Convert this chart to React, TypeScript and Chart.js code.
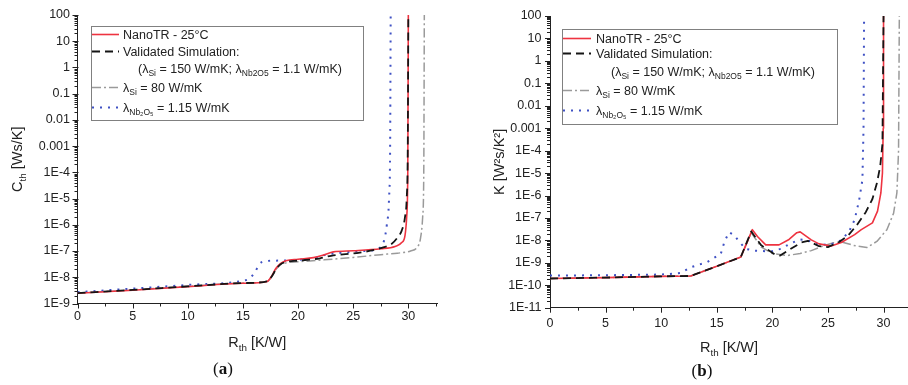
import React, { useEffect, useRef } from 'react';
import { Chart, registerables } from 'chart.js';

Chart.register(...registerables);

// ---------------- data ----------------
const R_TICK_VALUES = [0, 5, 10, 15, 20, 25, 30];
const CTH_TICK_LABELS = ['1E-9', '1E-8', '1E-7', '1E-6', '1E-5', '1E-4', '0.001', '0.01', '0.1', '1', '10', '100'];
const K_TICK_LABELS = ['1E-11', '1E-10', '1E-9', '1E-8', '1E-7', '1E-6', '1E-5', '1E-4', '0.001', '0.01', '0.1', '1', '10', '100'];

// (a) Cth vs Rth
const cthNanoTR_R = [0, 5, 10, 15, 17.2, 17.6, 18.0, 18.4, 18.9, 20, 21.4, 22.3, 23.2, 25, 27.5, 28.8, 29.4, 29.7, 29.85, 29.95, 30.0];
const cthNanoTR = [2.45e-9, 3.2e-9, 4.4e-9, 5.9e-9, 6.9e-9, 1.1e-8, 2.2e-8, 3.3e-8, 4.3e-8, 4.9e-8, 5.6e-8, 7e-8, 9.3e-8, 1.03e-7, 1.22e-7, 1.5e-7, 2.1e-7, 4e-7, 2e-6, 1e-4, 100];
const cthSim_R = [0, 5, 10, 15, 17.2, 17.6, 18.0, 18.4, 19, 20, 22, 23, 25.6, 27.5, 28.5, 29.0, 29.4, 29.7, 29.85, 29.95, 30.0];
const cthSim = [2.5e-9, 3.3e-9, 4.5e-9, 6.0e-9, 7.0e-9, 1.05e-8, 2.0e-8, 3.1e-8, 3.9e-8, 4.3e-8, 5.3e-8, 6.6e-8, 8.7e-8, 1.3e-7, 1.9e-7, 3.2e-7, 6e-7, 2e-6, 1e-5, 1e-3, 100];
const cthSi80_R = [0, 5, 10, 15, 17.2, 17.6, 18.0, 18.4, 19, 20, 22, 25, 27.5, 29, 30.2, 30.8, 31.1, 31.3, 31.4, 31.45];
const cthSi80 = [2.5e-9, 3.3e-9, 4.5e-9, 6.0e-9, 7.0e-9, 1.05e-8, 2.0e-8, 3.0e-8, 3.6e-8, 3.9e-8, 4.5e-8, 5.7e-8, 7.3e-8, 8.3e-8, 1.0e-7, 1.4e-7, 3e-7, 2e-6, 1e-4, 100];
const cthNb_R = [0, 5, 10, 15, 15.6, 16.1, 16.5, 17.0, 18, 20, 21.4, 22.6, 24.4, 26, 27.45, 27.8, 28.05, 28.25, 28.35, 28.4];
const cthNb = [2.7e-9, 3.7e-9, 5.1e-9, 7.4e-9, 9e-9, 1.6e-8, 3.2e-8, 4.1e-8, 4.3e-8, 4.6e-8, 5.3e-8, 7.3e-8, 9e-8, 1.0e-7, 1.35e-7, 2.5e-7, 1e-6, 1e-5, 1e-3, 100];

// (b) K vs Rth
const kNanoTR_R = [0, 5, 10, 12.66, 15, 17.16, 18.2, 18.66, 19.4, 20.6, 21.5, 22.2, 22.5, 23.5, 24.2, 25.3, 26.2, 27.4, 28.0, 29.0, 29.46, 29.76, 29.9, 29.97, 30.0];
const kNanoTR = [2.0e-10, 2.2e-10, 2.5e-10, 2.6e-10, 7e-10, 1.8e-9, 3e-8, 1.5e-8, 6.3e-9, 6.3e-9, 1.1e-8, 2.2e-8, 2.4e-8, 1.05e-8, 7e-9, 5.6e-9, 8e-9, 1.8e-8, 3e-8, 6e-8, 2e-7, 1.3e-6, 1e-5, 1e-3, 100];
const kSim_R = [0, 5, 10, 12.66, 15, 17.16, 18.1, 19.0, 20.2, 20.7, 21.3, 22.6, 23.2, 24.2, 25.0, 26.0, 26.8, 27.6, 28.4, 29.0, 29.4, 29.7, 29.9, 30.0];
const kSim = [2.0e-10, 2.2e-10, 2.5e-10, 2.6e-10, 7e-10, 1.8e-9, 2.5e-8, 6e-9, 2.4e-9, 2.1e-9, 3.3e-9, 8e-9, 9.5e-9, 5.5e-9, 5e-9, 8.5e-9, 1.6e-8, 4.8e-8, 1.8e-7, 7e-7, 3.5e-6, 2e-5, 2e-4, 100];
const kSi80_R = [0, 5, 10, 12.66, 15, 17.16, 18.1, 19.0, 20.0, 21.3, 22.5, 23.5, 24.5, 25.5, 26.3, 27.3, 28.5, 29.4, 30.3, 30.9, 31.2, 31.35, 31.42];
const kSi80 = [2.0e-10, 2.2e-10, 2.5e-10, 2.6e-10, 7e-10, 1.8e-9, 2.2e-8, 5e-9, 2.6e-9, 2.1e-9, 2.6e-9, 3.5e-9, 5.5e-9, 7.8e-9, 8.3e-9, 6e-9, 4.8e-9, 9e-9, 3e-8, 1.6e-7, 1.3e-6, 1e-4, 100];
const kNb_R = [0, 5, 10, 11.76, 12.66, 14.16, 15.36, 15.7, 16.1, 16.56, 17.0, 17.6, 18.36, 19.86, 20.76, 21.66, 22.5, 23.2, 24.2, 25.3, 26.2, 26.9, 27.4, 27.8, 28.1, 28.2, 28.25];
const kNb = [2.7e-10, 2.8e-10, 3.0e-10, 3.5e-10, 6.3e-10, 1.1e-9, 2.5e-9, 9e-9, 2.3e-8, 1.7e-8, 9e-9, 4.2e-9, 3.5e-9, 3.2e-9, 4.2e-9, 7.4e-9, 1.1e-8, 1.0e-8, 6.3e-9, 6.7e-9, 1e-8, 2.5e-8, 8.3e-8, 6e-7, 5e-6, 1e-3, 100];

// ---------------- styles ----------------
const FONT = "'Liberation Sans', Arial, sans-serif";
const TEXT = '#222222';
const AXIS = '#222222';

type Style = { color: string; width: number; dash: number[] };
const STYLE_NANO: Style = { color: '#ee3340', width: 1.6, dash: [] };
const STYLE_SIM: Style = { color: '#151515', width: 1.8, dash: [8, 5] };
const STYLE_SI80: Style = { color: '#9a9a9a', width: 1.5, dash: [9, 3, 2, 3] };
const STYLE_NB: Style = { color: '#3f51c4', width: 2, dash: [2, 6] };

type Seg = { t: string; sub?: boolean };
type LegendRow = { style: Style | null; segs: Seg[]; indent?: boolean };

const LEGEND_ROWS: LegendRow[] = [
  { style: STYLE_NANO, segs: [{ t: 'NanoTR - 25°C' }] },
  { style: STYLE_SIM, segs: [{ t: 'Validated Simulation:' }] },
  {
    style: null,
    indent: true,
    segs: [{ t: '(λ' }, { t: 'Si', sub: true }, { t: ' = 150 W/mK; λ' }, { t: 'Nb2O5', sub: true }, { t: ' = 1.1 W/mK)' }],
  },
  { style: STYLE_SI80, segs: [{ t: 'λ' }, { t: 'Si', sub: true }, { t: ' = 80 W/mK' }] },
  { style: STYLE_NB, segs: [{ t: 'λ' }, { t: 'Nb₂O₅', sub: true }, { t: ' = 1.15 W/mK' }] },
];

function drawRich(ctx: CanvasRenderingContext2D, segs: Seg[], x: number, y: number, size: number, align: 'left' | 'center') {
  const sub = size * 0.68;
  let w = 0;
  for (const s of segs) {
    ctx.font = `${s.sub ? sub : size}px ${FONT}`;
    w += ctx.measureText(s.t).width;
  }
  let cx = align === 'center' ? x - w / 2 : x;
  ctx.textAlign = 'left';
  ctx.textBaseline = 'alphabetic';
  for (const s of segs) {
    ctx.font = `${s.sub ? sub : size}px ${FONT}`;
    ctx.fillText(s.t, cx, s.sub ? y + size * 0.28 : y);
    cx += ctx.measureText(s.t).width;
  }
}

type PanelCfg = {
  yTitle: Seg[];
  yTitleX: number;
  xTitleBaseline: number;
  titleSize: number;
  box: [number, number, number, number];
  sample: [number, number];
  textX: number;
  indentX: number;
  rowY: number[];
  legendSize: number;
};

function makeDecor(cfg: PanelCfg) {
  return {
    id: 'decor',
    afterDraw(chart: any) {
      const ctx: CanvasRenderingContext2D = chart.ctx;
      const { left, right, top, bottom } = chart.chartArea;
      const xs = chart.scales.x;
      const ys = chart.scales.y;
      ctx.save();
      ctx.strokeStyle = AXIS;
      ctx.lineWidth = 1;
      ctx.setLineDash([]);
      ctx.beginPath();
      for (let v = 0; v <= xs.max + 1e-9; v += 2.5) {
        const px = Math.round(xs.getPixelForValue(v)) + 0.5;
        const len = Math.abs(v % 5) < 1e-9 ? 5 : 3;
        ctx.moveTo(px, bottom);
        ctx.lineTo(px, bottom + len);
      }
      const e0 = Math.round(Math.log10(ys.min));
      const e1 = Math.round(Math.log10(ys.max));
      for (let e = e0; e <= e1; e++) {
        for (let k = 1; k <= 9; k++) {
          const v = k * Math.pow(10, e);
          if (v > ys.max * 1.0001) break;
          const py = Math.round(ys.getPixelForValue(v)) + 0.5;
          if (k === 1) {
            ctx.moveTo(left - 5, py);
            ctx.lineTo(left + 1, py);
          } else {
            ctx.moveTo(left - 3, py);
            ctx.lineTo(left, py);
          }
        }
      }
      ctx.stroke();

      ctx.fillStyle = TEXT;
      drawRich(ctx, [{ t: 'R' }, { t: 'th', sub: true }, { t: ' [K/W]' }], (left + right) / 2, cfg.xTitleBaseline, cfg.titleSize, 'center');
      ctx.save();
      ctx.translate(cfg.yTitleX, (top + bottom) / 2);
      ctx.rotate(-Math.PI / 2);
      drawRich(ctx, cfg.yTitle, 0, cfg.titleSize * 0.36, cfg.titleSize, 'center');
      ctx.restore();

      // legend
      const [bx0, by0, bx1, by1] = cfg.box;
      ctx.fillStyle = '#ffffff';
      ctx.fillRect(bx0, by0, bx1 - bx0, by1 - by0);
      ctx.strokeStyle = '#808080';
      ctx.lineWidth = 1;
      ctx.strokeRect(bx0 + 0.5, by0 + 0.5, bx1 - bx0, by1 - by0);
      LEGEND_ROWS.forEach((row, i) => {
        const y = cfg.rowY[i];
        if (row.style) {
          ctx.save();
          ctx.strokeStyle = row.style.color;
          ctx.lineWidth = row.style.width;
          ctx.setLineDash(row.style.dash);
          ctx.beginPath();
          ctx.moveTo(cfg.sample[0], y + 0.5);
          ctx.lineTo(cfg.sample[1], y + 0.5);
          ctx.stroke();
          ctx.restore();
        }
        ctx.fillStyle = TEXT;
        drawRich(ctx, row.segs, row.indent ? cfg.indentX : cfg.textX, y + cfg.legendSize * 0.36, cfg.legendSize, 'left');
      });
      ctx.restore();
    },
  };
}

function ds(label: string, xs: number[], ys: number[], style: Style, order: number, smooth: boolean) {
  return {
    label,
    data: xs.map((x, i) => ({ x, y: ys[i] })),
    borderColor: style.color,
    backgroundColor: style.color,
    borderWidth: style.width,
    borderDash: style.dash,
    borderCapStyle: 'butt',
    borderJoinStyle: 'round',
    pointRadius: 0,
    fill: false,
    tension: 0,
    cubicInterpolationMode: smooth ? 'monotone' : 'default',
    order,
  };
}

function labelFor(labels: string[], v: number) {
  const f = labels.find((l) => Math.abs(Math.log10(Number(l)) - Math.log10(v)) < 1e-6);
  return f ?? '';
}

type ChartCfg = {
  datasets: any[];
  yLabels: string[];
  xMax: number;
  yWidth: number;
  padding: { top: number; bottom: number; left: number; right: number };
  xPad: number;
  yPad: number;
  decor: PanelCfg;
};

function Panel({ cfg, left }: { cfg: ChartCfg; left: number }) {
  const ref = useRef<HTMLCanvasElement>(null);
  useEffect(() => {
    if (!ref.current) return;
    const yVals = cfg.yLabels.map(Number);
    const chart = new Chart(ref.current, {
      type: 'line',
      data: { datasets: cfg.datasets },
      options: {
        responsive: false,
        animation: false,
        devicePixelRatio: 1,
        layout: { padding: cfg.padding },
        plugins: { legend: { display: false }, tooltip: { enabled: false } },
        scales: {
          x: {
            type: 'linear',
            min: 0,
            max: cfg.xMax,
            grid: { display: false, drawTicks: false },
            border: { display: true, color: AXIS, width: 1 },
            afterBuildTicks: (axis: any) => {
              axis.ticks = R_TICK_VALUES.map((value) => ({ value }));
            },
            afterFit: (axis: any) => {
              axis.height = 40;
            },
            ticks: {
              autoSkip: false,
              maxRotation: 0,
              padding: cfg.xPad,
              color: TEXT,
              font: { family: FONT, size: 12.5 },
              callback: (v: any) => String(v),
            },
          },
          y: {
            type: 'logarithmic',
            min: yVals[0],
            max: yVals[yVals.length - 1],
            grid: { display: false, drawTicks: false },
            border: { display: true, color: AXIS, width: 1 },
            afterBuildTicks: (axis: any) => {
              axis.ticks = yVals.map((value) => ({ value }));
            },
            afterFit: (axis: any) => {
              axis.width = cfg.yWidth;
            },
            ticks: {
              autoSkip: false,
              padding: cfg.yPad,
              color: TEXT,
              font: { family: FONT, size: 12.5 },
              callback: (v: any) => labelFor(cfg.yLabels, Number(v)),
            },
          },
        },
      } as any,
      plugins: [makeDecor(cfg.decor)],
    });
    return () => chart.destroy();
  }, [cfg]);
  return (
    <canvas
      ref={ref}
      width={454}
      height={385}
      style={{ position: 'absolute', left, top: 0, width: 454, height: 385, display: 'block' }}
    />
  );
}

const CFG_A: ChartCfg = {
  datasets: [
    ds('Validated Simulation', cthSim_R, cthSim, STYLE_SIM, 0, true),
    ds('NanoTR - 25°C', cthNanoTR_R, cthNanoTR, STYLE_NANO, 1, true),
    ds('λNb2O5 = 1.15 W/mK', cthNb_R, cthNb, STYLE_NB, 2, true),
    ds('λSi = 80 W/mK', cthSi80_R, cthSi80, STYLE_SI80, 3, true),
  ],
  yLabels: CTH_TICK_LABELS,
  xMax: 32.6,
  yWidth: 77.5,
  padding: { top: 14, bottom: 41.5, left: 0, right: 17 },
  xPad: 6,
  yPad: 7.5,
  decor: {
    yTitle: [{ t: 'C' }, { t: 'th', sub: true }, { t: ' [Ws/K]' }],
    yTitleX: 16.5,
    xTitleBaseline: 347,
    titleSize: 14.5,
    box: [91, 26, 363, 120],
    sample: [92, 119],
    textX: 123,
    indentX: 138,
    rowY: [34, 51, 68, 87, 107],
    legendSize: 12.5,
  },
};

const CFG_B: ChartCfg = {
  datasets: [
    ds('Validated Simulation', kSim_R, kSim, STYLE_SIM, 0, false),
    ds('NanoTR - 25°C', kNanoTR_R, kNanoTR, STYLE_NANO, 1, false),
    ds('λNb2O5 = 1.15 W/mK', kNb_R, kNb, STYLE_NB, 2, false),
    ds('λSi = 80 W/mK', kSi80_R, kSi80, STYLE_SI80, 3, false),
  ],
  yLabels: K_TICK_LABELS,
  xMax: 32.2,
  yWidth: 96,
  padding: { top: 16, bottom: 37.3, left: 0, right: 0 },
  xPad: 8,
  yPad: 8.5,
  decor: {
    yTitle: [{ t: 'K [W²s/K²]' }],
    yTitleX: 45,
    xTitleBaseline: 352,
    titleSize: 14.5,
    box: [108, 29, 383, 124],
    sample: [109, 137],
    textX: 142,
    indentX: 157,
    rowY: [38, 53, 71, 90, 110],
    legendSize: 12.5,
  },
};

const captionStyle: React.CSSProperties = {
  position: 'absolute',
  fontFamily: "'Liberation Serif', 'Times New Roman', serif",
  fontSize: 17,
  color: '#111',
  lineHeight: '20px',
  transform: 'translate(-50%, -50%)',
  whiteSpace: 'nowrap',
};

export default function App() {
  return (
    <div style={{ position: 'absolute', left: 0, top: 0, width: 908, height: 385, overflow: 'hidden', background: '#fff' }}>
      <Panel cfg={CFG_A} left={0} />
      <Panel cfg={CFG_B} left={454} />
      <div style={{ ...captionStyle, left: 223, top: 369 }}>
        (<b>a</b>)
      </div>
      <div style={{ ...captionStyle, left: 702, top: 371 }}>
        (<b>b</b>)
      </div>
    </div>
  );
}
